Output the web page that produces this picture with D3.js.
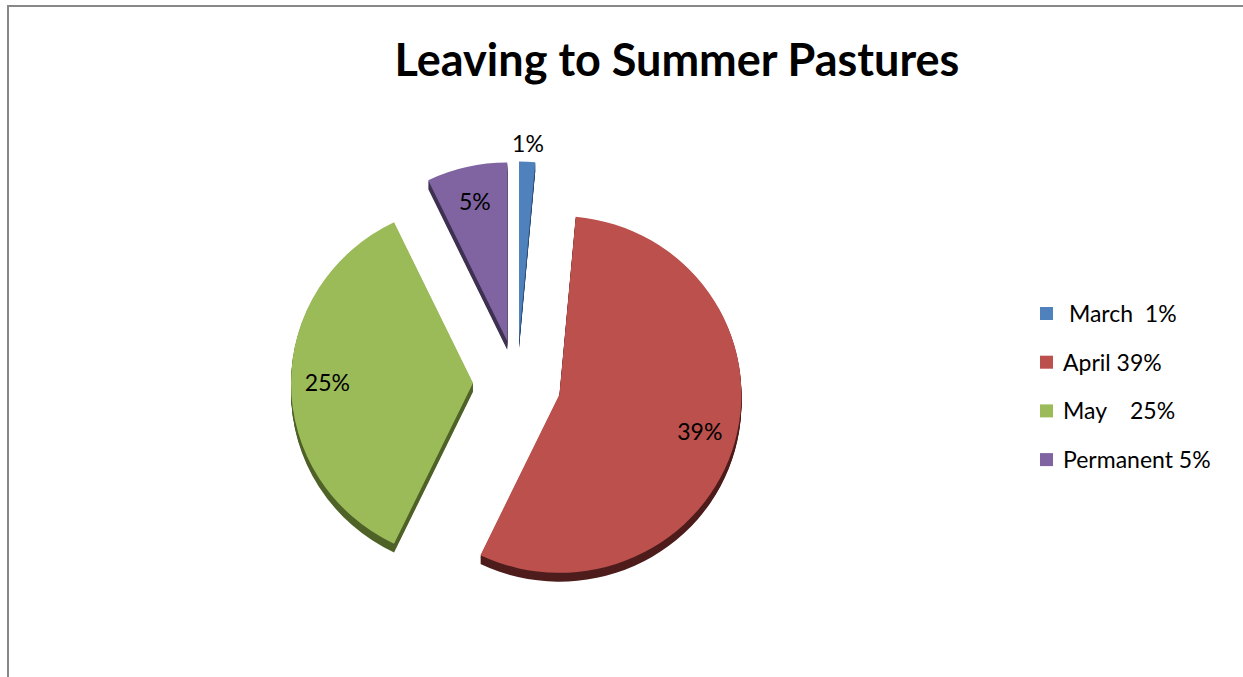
<!DOCTYPE html>
<html>
<head>
<meta charset="utf-8">
<script src="https://cdn.jsdelivr.net/npm/d3@7"></script>
<style>
    html, body { margin: 0; padding: 0; background: #fff; }
    svg { display: block; font-family: Lato, "Open Sans", sans-serif; }
    .legend-label { white-space: pre; }
</style>
</head>
<body>
<svg id="chart" width="1243" height="677"></svg>
<script>
'use strict';

const title = 'Leaving to Summer Pastures';
const categories = ['March', 'April', 'May', 'Permanent'];
const values = [1, 39, 25, 5];
const sliceLabels = ['1%', '39%', '25%', '5%'];
const legendLabels = [' March  1%', 'April 39%', 'May    25%', 'Permanent 5%'];
const colors = ['#4f81bd', '#bb504d', '#9bbb59', '#8064a2'];
const sideColors = ['#2c4d75', '#4e1d1c', '#4f6228', '#3f3151'];

const width = 1243;
const height = 677;
const cx = 517;
const cy = 383;
const radius = 182;
const squash = 0.98;
const explode = 44;
const depth = 9;

const svg = d3.select('#chart');

// chart area frame (only top + left edges are inside the window)
svg.append('rect')
    .attr('x', 8)
    .attr('y', 6)
    .attr('width', width)
    .attr('height', height)
    .attr('fill', 'none')
    .attr('stroke', '#888')
    .attr('stroke-width', 2);

svg.append('text')
    .attr('x', 677)
    .attr('y', 76)
    .attr('text-anchor', 'middle')
    .attr('font-size', 45)
    .attr('font-weight', 'bold')
    .attr('fill', '#000')
    .text(title);

const pie = d3.pie().sort(null).value(d => d)
    .startAngle(0)
    .endAngle(2 * Math.PI);
const arcs = pie(values);
const arc = d3.arc().innerRadius(0).outerRadius(radius);

const root = svg.append('g')
    .attr('transform', `translate(${cx} ${cy}) scale(1 ${squash})`);

const slice = root.selectAll('.slice')
    .data(arcs)
    .enter()
    .append('g')
    .attr('class', 'slice')
    .attr('transform', (d) => {
        const mid = (d.startAngle + d.endAngle) / 2;
        return `translate(${explode * Math.sin(mid)} ${-explode * Math.cos(mid)})`;
    });

// extruded side: stacked darker copies below the face
slice.each(function (d, i) {
    const g = d3.select(this);
    for (let k = depth; k >= 1; k--) {
        g.append('path')
            .attr('d', arc(d))
            .attr('transform', `translate(0 ${k})`)
            .attr('fill', sideColors[i]);
    }
});

slice.append('path')
    .attr('d', d => arc(d))
    .attr('fill', (d, i) => colors[i]);

// data labels: inside the slice, outside when the slice is a thin sliver
slice.append('text')
    .attr('transform', (d) => {
        const mid = (d.startAngle + d.endAngle) / 2;
        const span = d.endAngle - d.startAngle;
        const r = span < 0.2 ? radius * 1.1 : radius * 0.8;
        return `translate(${r * Math.sin(mid)} ${-r * Math.cos(mid)}) scale(1 ${1 / squash})`;
    })
    .attr('text-anchor', 'middle')
    .attr('dy', '0.35em')
    .attr('font-size', 23)
    .attr('fill', '#000')
    .text((d, i) => sliceLabels[i]);

// legend
const legend = svg.append('g').attr('transform', 'translate(1040 314)');
const row = legend.selectAll('.row')
    .data(categories)
    .enter()
    .append('g')
    .attr('class', 'row')
    .attr('transform', (d, i) => `translate(0 ${i * 48.7})`);

row.append('rect')
    .attr('x', 0)
    .attr('y', -7)
    .attr('width', 13)
    .attr('height', 13)
    .attr('fill', (d, i) => colors[i]);

row.append('text')
    .attr('class', 'legend-label')
    .attr('x', 23)
    .attr('dy', '0.35em')
    .attr('font-size', 23)
    .attr('fill', '#000')
    .text((d, i) => legendLabels[i]);
</script>
</body>
</html>
